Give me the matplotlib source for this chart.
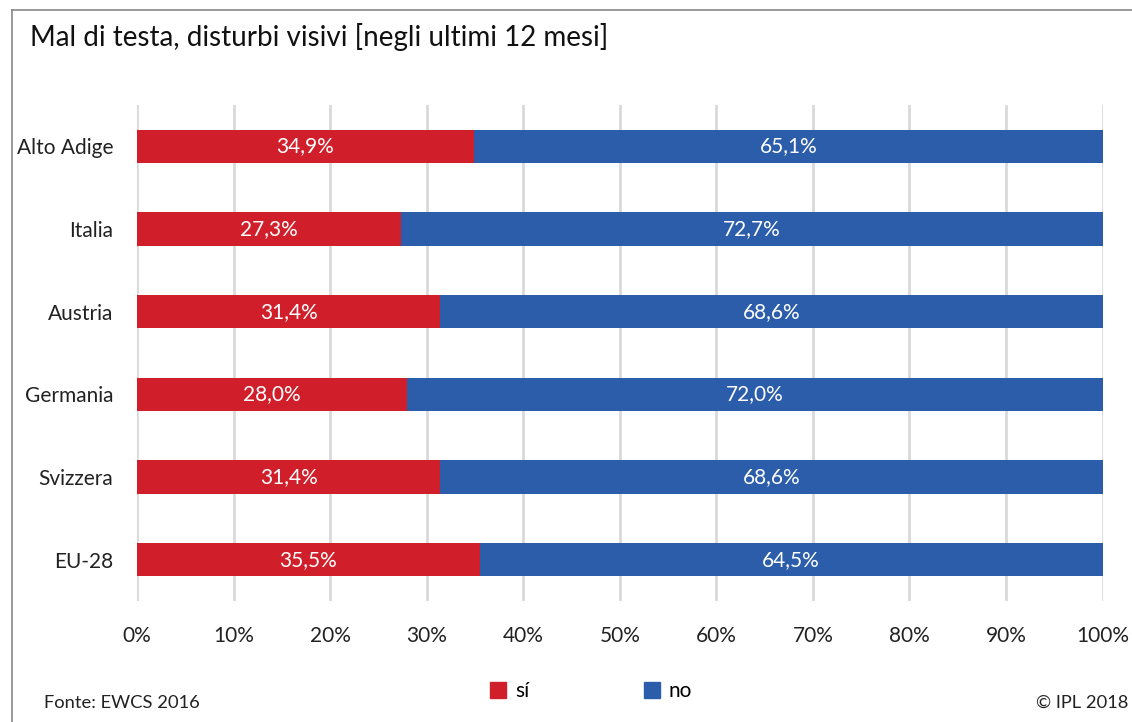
import matplotlib
matplotlib.use("Agg")
import matplotlib.pyplot as plt
from matplotlib.lines import Line2D
from matplotlib.patches import Patch

# data
regioni = ["Alto Adige", "Italia", "Austria", "Germania", "Svizzera", "EU-28"]
si = [34.9, 27.3, 31.4, 28.0, 31.4, 35.5]
no = [65.1, 72.7, 68.6, 72.0, 68.6, 64.5]
ticks = [0, 10, 20, 30, 40, 50, 60, 70, 80, 90, 100]

red = "#D01F2A"
blue = "#2B5DAA"

plt.rcParams["font.family"] = ["Lato", "DejaVu Sans"]

fig = plt.figure(figsize=(11.32, 7.22), dpi=100)
ax = fig.add_axes([0.121, 0.1676, 0.853, 0.687])

y = list(range(len(regioni)))
ax.barh(y, si, height=0.4, color=red, zorder=3)
ax.barh(y, no, left=si, height=0.4, color=blue, zorder=3)

# white value labels inside the bars
for i in y:
    ax.text(si[i] / 2, i, f"{si[i]:.1f}%".replace(".", ","), color="white",
            ha="center", va="center", fontsize=15, zorder=4)
    ax.text(si[i] + no[i] / 2, i, f"{no[i]:.1f}%".replace(".", ","), color="white",
            ha="center", va="center", fontsize=15, zorder=4)

ax.set_xlim(0, 100)
ax.set_ylim(len(regioni) - 0.5, -0.5)
ax.set_xticks(ticks)
ax.set_xticklabels([f"{t}%" for t in ticks], fontsize=15, color="#222222")
ax.set_yticks(y)
ax.set_yticklabels(regioni, fontsize=15, color="#222222")
ax.tick_params(axis="both", length=0)
ax.tick_params(axis="x", pad=18)
ax.tick_params(axis="y", pad=17)
ax.grid(axis="x", color="#d9d9d9", linewidth=2, zorder=0)
for s in ax.spines.values():
    s.set_visible(False)

# frame lines left and top
fy = 1 - 9.5 / 722
fig.add_artist(Line2D([11.5 / 1132, 11.5 / 1132], [0, fy], transform=fig.transFigure,
                      color="#888888", linewidth=1.2))
fig.add_artist(Line2D([11.5 / 1132, 1], [fy, fy], transform=fig.transFigure,
                      color="#888888", linewidth=1.2))

fig.text(30 / 1132, 1 - 37 / 722, "Mal di testa, disturbi visivi [negli ultimi 12 mesi]",
         fontsize=20, va="center", ha="left", color="#111111")
fig.text(44 / 1132, 1 - 703 / 722, "Fonte: EWCS 2016", fontsize=13.2, va="center",
         ha="left", color="#222222")
fig.text(1128 / 1132, 1 - 703 / 722, "© IPL 2018", fontsize=13.2, va="center",
         ha="right", color="#222222")

handles = [Patch(color=red, label="sí"), Patch(color=blue, label="no")]
fig.legend(handles=handles, loc="center", bbox_to_anchor=(0.522, 1 - 691 / 722), ncol=2,
           frameon=False, fontsize=15, handlelength=0.8, handleheight=0.8,
           handletextpad=0.4, columnspacing=5.5)

fig.savefig("out.png", dpi=100)
